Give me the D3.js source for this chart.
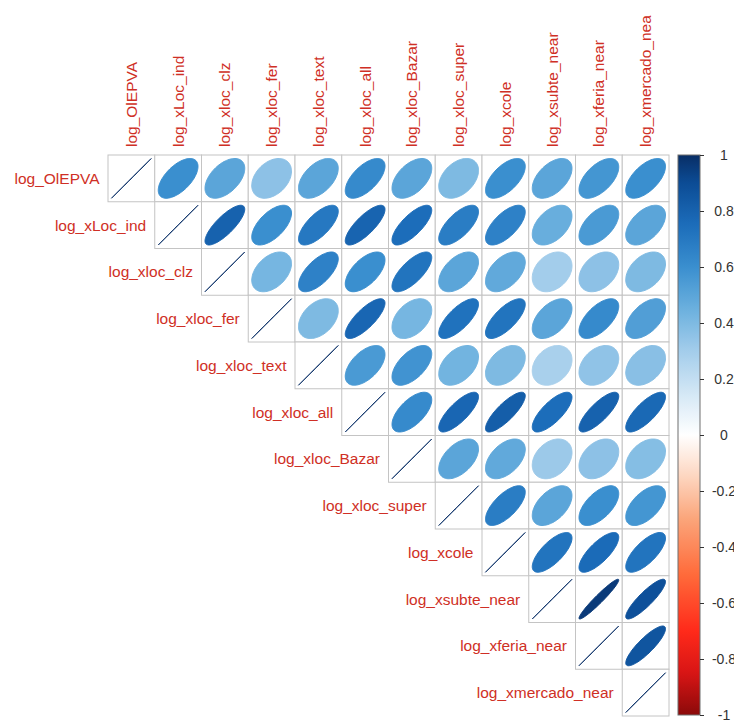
<!DOCTYPE html>
<html>
<head>
<meta charset="utf-8">
<script src="https://cdn.jsdelivr.net/npm/d3@7"></script>
<style>
  html, body { margin: 0; padding: 0; background: #ffffff; }
  svg { display: block; }
</style>
</head>
<body>
<svg id="chart" width="734" height="720"></svg>
<script>
// Variables of the correlation matrix (row and column order)
const variables = [
  "log_OlEPVA", "log_xLoc_ind", "log_xloc_clz", "log_xloc_fer", "log_xloc_text",
  "log_xloc_all", "log_xloc_Bazar", "log_xloc_super", "log_xcole",
  "log_xsubte_near", "log_xferia_near", "log_xmercado_near"
];

// Upper-triangle correlations: each row starts at its own diagonal
const rowOlEPVA   = [1, 0.60, 0.50, 0.36, 0.50, 0.62, 0.50, 0.40, 0.60, 0.50, 0.57, 0.60];
const rowLocInd   = [1, 0.80, 0.60, 0.70, 0.79, 0.75, 0.68, 0.66, 0.46, 0.55, 0.50];
const rowLocClz   = [1, 0.42, 0.66, 0.60, 0.72, 0.50, 0.48, 0.30, 0.36, 0.40];
const rowLocFer   = [1, 0.40, 0.78, 0.42, 0.73, 0.72, 0.50, 0.62, 0.53];
const rowLocText  = [1, 0.55, 0.58, 0.43, 0.40, 0.28, 0.35, 0.37];
const rowLocAll   = [1, 0.62, 0.78, 0.82, 0.75, 0.80, 0.77];
const rowLocBazar = [1, 0.50, 0.48, 0.32, 0.36, 0.38];
const rowLocSuper = [1, 0.68, 0.50, 0.60, 0.57];
const rowCole     = [1, 0.72, 0.76, 0.72];
const rowSubte    = [1, 0.96, 0.88];
const rowFeria    = [1, 0.86];
const rowMercado  = [1];

const upperRows = [rowOlEPVA, rowLocInd, rowLocClz, rowLocFer, rowLocText, rowLocAll,
                   rowLocBazar, rowLocSuper, rowCole, rowSubte, rowFeria, rowMercado];

// Colour legend ticks
const legendTicks = [-1, -0.8, -0.6, -0.4, -0.2, 0, 0.2, 0.4, 0.6, 0.8, 1];

// Diverging palette (red -> white -> blue)
const paletteStops  = [-1, -0.85, -0.7, -0.5, -0.3, -0.15, 0, 0.15, 0.3, 0.45, 0.6, 0.75, 0.9, 1];
const paletteColors = ["#8b0a0a", "#d81515", "#ff2a1a", "#ff6a3a", "#fba57a", "#fdd5bf", "#ffffff",
                       "#d3e7f5", "#a3cdeb", "#6bb0de", "#3a8fcf", "#1c6dba", "#0c4c95", "#082e66"];

const color = d3.scaleLinear().domain(paletteStops).range(paletteColors).clamp(true);

const cells = [];
upperRows.forEach((row, i) => {
  row.forEach((r, k) => cells.push({ row: variables[i], col: variables[i + k], r }));
});

const svg = d3.select("#chart");

const gridLeft = 108, gridRight = 669, gridTop = 155, gridBottom = 716;
const x = d3.scaleBand().domain(variables).range([gridLeft, gridRight]);
const y = d3.scaleBand().domain(variables).range([gridTop, gridBottom]);
const cw = x.bandwidth(), ch = y.bandwidth();

const labelColor = "#cf2f25";
const labelFont = "'Liberation Sans', Arial, sans-serif";

// Plot region clip: column labels are cut at the top margin
const defs = svg.append("defs");
defs.append("clipPath").attr("id", "plotRegion")
  .append("rect").attr("x", 0).attr("y", 15.5).attr("width", 734).attr("height", 705);

// Cell frames
svg.append("g").selectAll("rect")
  .data(cells).join("rect")
  .attr("x", d => x(d.col))
  .attr("y", d => y(d.row))
  .attr("width", cw)
  .attr("height", ch)
  .attr("fill", "#ffffff")
  .attr("stroke", "#c4c4c4")
  .attr("stroke-width", 1);

// Ellipse outline for a correlation r, in unit-cell coordinates
function ellipsePoints(r) {
  const a = Math.acos(Math.max(-1, Math.min(1, r)));
  const pts = [];
  const n = 99;
  for (let j = 0; j < n; j++) {
    const k = (2 * Math.PI * j) / (n - 1);
    pts.push([0.85 * Math.cos(k + a / 2) / 2, 0.85 * Math.cos(k - a / 2) / 2]);
  }
  return pts;
}

const line = d3.line().curve(d3.curveLinearClosed);

svg.append("g").selectAll("path")
  .data(cells).join("path")
  .attr("transform", d => `translate(${x(d.col) + cw / 2},${y(d.row) + ch / 2})`)
  .attr("d", d => line(ellipsePoints(d.r).map(([px, py]) => [px * cw, -py * ch])))
  .attr("fill", d => color(d.r))
  .attr("stroke", d => color(d.r))
  .attr("stroke-width", 1)
  .attr("stroke-linejoin", "round");

// Row labels (left of each diagonal cell)
svg.append("g").selectAll("text")
  .data(variables).join("text")
  .attr("x", d => x(d) - 8.5)
  .attr("y", d => y(d) + ch / 2)
  .attr("dy", "0.35em")
  .attr("text-anchor", "end")
  .attr("font-family", labelFont)
  .attr("font-size", 15.5)
  .attr("fill", labelColor)
  .text(d => d);

// Column labels (vertical, above the grid)
svg.append("g")
  .attr("clip-path", "url(#plotRegion)")
  .selectAll("text")
  .data(variables).join("text")
  .attr("transform", d => `translate(${x(d) + cw / 2},${gridTop - 8}) rotate(-90)`)
  .attr("dy", "0.35em")
  .attr("text-anchor", "start")
  .attr("font-family", labelFont)
  .attr("font-size", 15.5)
  .attr("fill", labelColor)
  .text(d => d);

// Colour legend
const barX = 678, barW = 22, barTop = 155, barBottom = 715;
const ly = d3.scaleLinear().domain([-1, 1]).range([barBottom, barTop]);

const grad = defs.append("linearGradient")
  .attr("id", "corrGrad")
  .attr("x1", 0).attr("y1", 1).attr("x2", 0).attr("y2", 0);
d3.range(-1, 1.0001, 0.02).forEach(v => {
  grad.append("stop")
    .attr("offset", (v + 1) / 2)
    .attr("stop-color", color(v));
});

svg.append("rect")
  .attr("x", barX).attr("y", barTop)
  .attr("width", barW).attr("height", barBottom - barTop)
  .attr("fill", "url(#corrGrad)")
  .attr("stroke", "#6e6e6e")
  .attr("stroke-width", 1);

const legendAxis = d3.axisRight(ly)
  .tickValues(legendTicks)
  .tickSize(4)
  .tickPadding(20)
  .tickFormat(d => d === 0 ? "0" : String(d));

const ag = svg.append("g")
  .attr("transform", `translate(${barX + barW},0)`)
  .call(legendAxis);
ag.select(".domain").remove();
ag.selectAll(".tick line").attr("stroke", "#333333");
ag.selectAll(".tick text")
  .attr("text-anchor", "middle")
  .attr("font-family", labelFont)
  .attr("font-size", 14)
  .attr("fill", "#333333");
</script>
</body>
</html>
